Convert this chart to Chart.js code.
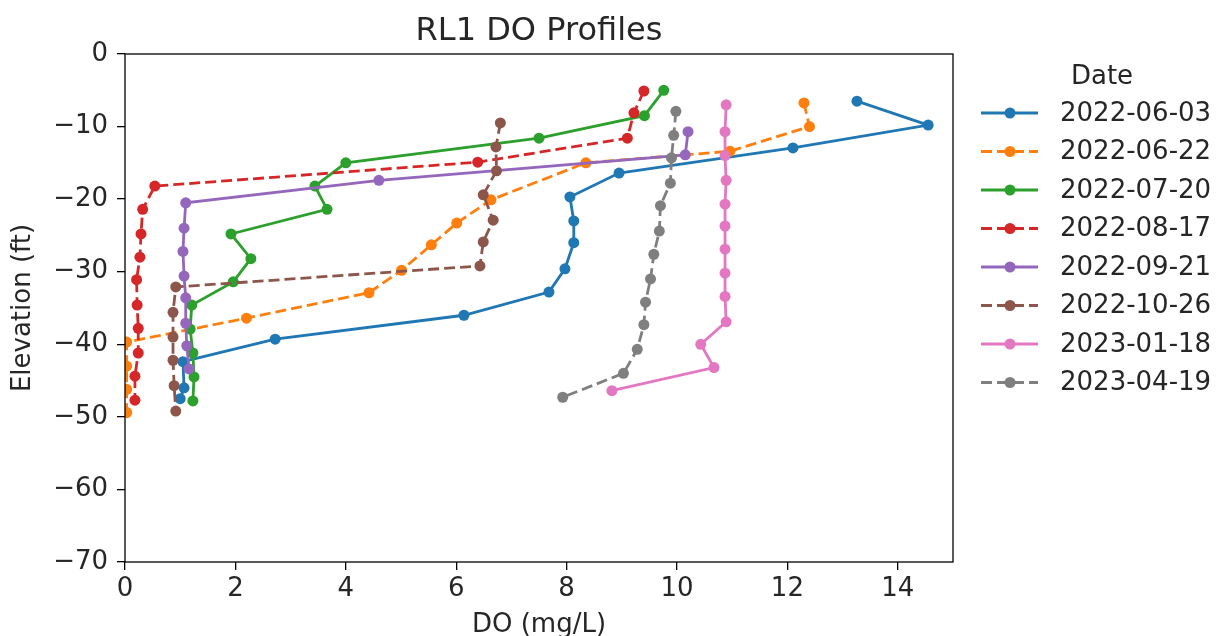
<!DOCTYPE html>
<html>
<head>
<meta charset="utf-8">
<title>RL1 DO Profiles</title>
<script src="https://cdn.jsdelivr.net/npm/chart.js@4.4.1/dist/chart.umd.min.js"></script>
<style>
  html, body { margin:0; padding:0; background:#fff; }
  #chart { display:block; }
</style>
</head>
<body>
<canvas id="chart" width="1222" height="636"></canvas>
<script>
// profile dates (legend order)
const dates = ["2022-06-03","2022-06-22","2022-07-20","2022-08-17","2022-09-21","2022-10-26","2023-01-18","2023-04-19"];
const colors = ["#1f77b4","#ff7f0e","#2ca02c","#d62728","#9467bd","#8c564b","#e377c2","#7f7f7f"];
const dashed = [false,true,false,true,false,true,false,true];

// DO (mg/L) and elevation (ft) per profile, read top to bottom
const do0603 = [13.26,14.55,12.1,8.95,8.06,8.13,8.13,7.97,7.68,6.14,2.72,1.05,1.07,1.0];
const el0603 = [-6.5,-9.8,-12.95,-16.4,-19.7,-23.0,-26.0,-29.6,-32.8,-36.0,-39.3,-42.4,-46.0,-47.5];
const do0622 = [12.3,12.4,10.96,8.35,6.63,6.01,5.55,5.01,4.42,2.2,0.03,0.03,0.03,0.03];
const el0622 = [-6.75,-10.0,-13.4,-15.0,-20.1,-23.3,-26.3,-29.8,-32.9,-36.4,-39.7,-43.0,-46.2,-49.4];
const do0720 = [9.76,9.41,7.5,4.0,3.44,3.66,1.92,2.28,1.96,1.21,1.18,1.23,1.25,1.23];
const el0720 = [-5.0,-8.5,-11.6,-15.0,-18.2,-21.4,-24.8,-28.2,-31.4,-34.6,-37.9,-41.2,-44.5,-47.8];
const do0817 = [9.4,9.22,9.1,6.39,0.54,0.32,0.29,0.27,0.21,0.22,0.24,0.24,0.18,0.18];
const el0817 = [-5.1,-8.1,-11.6,-14.9,-18.2,-21.4,-24.8,-28.0,-31.1,-34.6,-37.8,-41.2,-44.4,-47.7];
const do0921 = [10.2,10.15,4.6,1.1,1.07,1.05,1.07,1.1,1.1,1.12,1.16];
const el0921 = [-10.7,-13.9,-17.4,-20.5,-24.0,-27.2,-30.6,-33.6,-37.1,-40.2,-43.4];
const do1026 = [6.8,6.72,6.73,6.49,6.67,6.49,6.43,0.92,0.87,0.87,0.87,0.89,0.92];
const el1026 = [-9.5,-12.8,-16.1,-19.4,-22.9,-25.9,-29.2,-32.1,-35.6,-39.0,-42.2,-45.7,-49.2];
const do0118 = [10.89,10.87,10.87,10.89,10.87,10.87,10.87,10.87,10.87,10.89,10.43,10.67,8.82];
const el0118 = [-7.0,-10.7,-14.0,-17.4,-20.7,-23.7,-26.9,-30.2,-33.4,-36.9,-40.0,-43.2,-46.4];
const do0419 = [9.98,9.94,9.9,9.88,9.7,9.68,9.58,9.52,9.43,9.4,9.28,9.03,7.93];
const el0419 = [-7.9,-11.2,-14.3,-17.8,-20.9,-24.4,-27.6,-31.0,-34.2,-37.3,-40.7,-44.0,-47.3];

const doSeries = [do0603,do0622,do0720,do0817,do0921,do1026,do0118,do0419];
const elSeries = [el0603,el0622,el0720,el0817,el0921,el1026,el0118,el0419];

// axis ticks
const xTicks = [0,2,4,6,8,10,12,14];
const yTicks = [0,-10,-20,-30,-40,-50,-60,-70];

const FONT = "'DejaVu Sans', sans-serif";
const TEXT = "#262626";
const DASH = [11,5];
const minus = v => v < 0 ? "\u2212" + Math.abs(v) : String(v);

const datasets = dates.map((d,i)=>({
  label: d,
  data: doSeries[i].map((x,j)=>({ x, y: elSeries[i][j] })),
  borderColor: colors[i],
  backgroundColor: colors[i],
  pointBackgroundColor: colors[i],
  pointBorderWidth: 0,
  pointRadius: 5.5,
  borderWidth: 2.8,
  borderDash: dashed[i] ? DASH : [],
  tension: 0,
  order: dates.length - i
}));

// matplotlib style box + title centred over the plot area
const frame = {
  id: "frame",
  afterDatasetsDraw(chart) {
    const { ctx, chartArea: a } = chart;
    ctx.save();
    ctx.strokeStyle = "#000";
    ctx.lineWidth = 1.3;
    ctx.strokeRect(a.left, a.top, a.right - a.left, a.bottom - a.top);
    ctx.font = `32px ${FONT}`;
    ctx.fillStyle = TEXT;
    ctx.textAlign = "center";
    ctx.textBaseline = "alphabetic";
    ctx.fillText("RL1 DO Profiles", (a.left + a.right) / 2, 40);
    ctx.restore();
  }
};

// legend: line + marker handle, title "Date"
const legendBox = {
  id: "legendBox",
  afterDraw(chart) {
    const ctx = chart.ctx;
    ctx.save();
    ctx.font = `26px ${FONT}`;
    ctx.fillStyle = TEXT;
    ctx.textBaseline = "middle";
    ctx.textAlign = "center";
    ctx.fillText("Date", 1102, 77);
    const y0 = 113, step = 38.5;
    chart.data.datasets.forEach((ds,i)=>{
      const y = y0 + i*step;
      ctx.strokeStyle = ds.borderColor;
      ctx.lineWidth = ds.borderWidth;
      ctx.setLineDash(ds.borderDash);
      ctx.beginPath();
      ctx.moveTo(981, y);
      ctx.lineTo(1038, y);
      ctx.stroke();
      ctx.setLineDash([]);
      ctx.fillStyle = ds.borderColor;
      ctx.beginPath();
      ctx.arc(1010, y, 5.5, 0, Math.PI*2);
      ctx.fill();
      ctx.fillStyle = TEXT;
      ctx.textAlign = "left";
      ctx.fillText(ds.label, 1060, y + 1);
    });
    ctx.restore();
  }
};

new Chart(document.getElementById("chart"), {
  type: "line",
  data: { datasets },
  plugins: [frame, legendBox],
  options: {
    responsive: false,
    animation: false,
    devicePixelRatio: 1,
    layout: { padding: { left: 0, right: 269, top: 54, bottom: 0 } },
    plugins: {
      legend: { display: false },
      tooltip: { enabled: false },
      title: { display: false }
    },
    scales: {
      x: {
        type: "linear",
        min: 0, max: 15,
        ticks: { stepSize: 2, color: TEXT, padding: 4, font: { family: FONT, size: 26 }, callback: v => minus(v) },
        afterBuildTicks: s => { s.ticks = xTicks.map(value => ({ value })); },
        afterFit: s => { s.height = 74; },
        grid: { display: true, drawOnChartArea: false, drawTicks: true, tickLength: 8, color: "#000", lineWidth: 1.3 },
        border: { display: false },
        title: { display: true, text: "DO (mg/L)", color: TEXT, font: { family: FONT, size: 26, lineHeight: 0.8 }, padding: { top: 0, bottom: 0 } }
      },
      y: {
        type: "linear",
        min: -70, max: 0,
        ticks: { stepSize: 10, color: TEXT, padding: 9, font: { family: FONT, size: 26 }, callback: v => minus(v) },
        afterBuildTicks: s => { s.ticks = yTicks.map(value => ({ value })); },
        afterFit: s => { s.width = 125; },
        grid: { display: true, drawOnChartArea: false, drawTicks: true, tickLength: 8, color: "#000", lineWidth: 1.3 },
        border: { display: false },
        title: { display: true, text: "Elevation (ft)", color: TEXT, font: { family: FONT, size: 26, lineHeight: 1.2 }, padding: { top: 8, bottom: 0 } }
      }
    }
  }
});
</script>
</body>
</html>
